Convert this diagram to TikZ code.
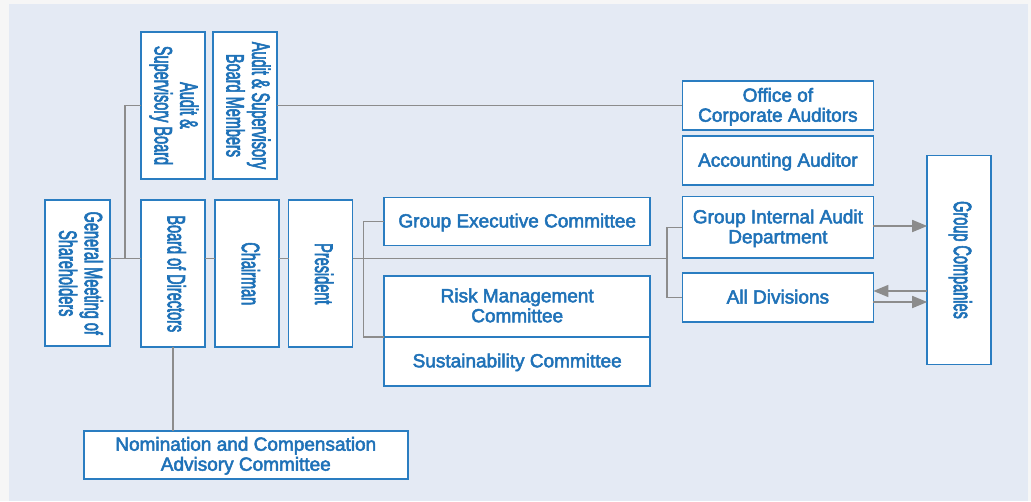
\documentclass[tikz,border=0pt]{standalone}
\usepackage{fontspec}
\usepackage{array}
\setmainfont{Liberation Sans}
\newfontfamily\hfont{Liberation Sans}
\newcommand{\embon}{\special{pdf:literal direct 2 Tr 0.5 w}}
\newcommand{\embonv}{\special{pdf:literal direct 2 Tr 0.9 w}}
\newcommand{\emboff}{\special{pdf:literal direct 0 Tr}}
\usetikzlibrary{arrows.meta}
\definecolor{outerbg}{HTML}{F6F6F6}
\definecolor{panelbg}{HTML}{E4EAF4}
\definecolor{boxblue}{HTML}{2A7DC1}
\definecolor{txtblue}{HTML}{1F72B8}
\definecolor{lingray}{HTML}{8C8C8C}
\newcommand{\vt}[1]{\rotatebox[origin=c]{-90}{\scalebox{0.58}[1]{\hfont\fontsize{25}{25}\selectfont\embonv\begin{tabular}{@{}>{\embonv}c@{}}#1\end{tabular}}}}
\newcommand{\htxt}[1]{\raisebox{-2pt}[\height][\depth]{\begin{tabular}{@{}c@{}}#1\end{tabular}}}
\tikzset{
  orgbox/.style={draw=boxblue, line width=1.8pt, fill=white, inner sep=0pt, outer sep=0pt,
    text=txtblue, align=center, font=\hfont\fontsize{19}{20}\selectfont,
    execute at begin node=\embon, execute at end node=\emboff},
  link/.style={draw=lingray, line width=1.6pt},
  arr/.style={link, -{Triangle[length=15pt,width=12pt,fill=lingray]}}
}
\begin{document}
\begin{tikzpicture}[x=1pt,y=-1pt]
\useasboundingbox (0,0) rectangle (1031,501);
\fill[outerbg] (0,0) rectangle (1031,501);
\fill[panelbg] (9,4) rectangle (1028,501);

% coordinates for connector junctions
\coordinate (m) at (0,258.3);
\coordinate (j1) at (125,258.3);
\coordinate (j2) at (363.3,258.3);
\coordinate (j3) at (667,258.3);

% boxes
\node[orgbox, minimum width=65, minimum height=146] (GM) at (77.3,273.3) {\vt{General Meeting of\\Shareholders}};
\node[orgbox, minimum width=64, minimum height=147] (ASB) at (172.8,105.5) {\vt{Audit \&\\Supervisory Board}};
\node[orgbox, minimum width=64, minimum height=147] (ASBM) at (244.7,105.5) {\vt{Audit \& Supervisory\\Board Members}};
\node[orgbox, minimum width=64, minimum height=147] (BoD) at (173,273.8) {\vt{Board of Directors}};
\node[orgbox, minimum width=64, minimum height=147] (Ch) at (247.2,273.8) {\vt{Chairman}};
\node[orgbox, minimum width=64, minimum height=147] (Pr) at (320.5,273.8) {\vt{President}};
\node[orgbox, minimum width=266, minimum height=48] (GEC) at (517.2,221.4) {\htxt{Group Executive Committee}};
\node[orgbox, minimum width=266, minimum height=60.9] (RMC) at (517.2,306.25) {\htxt{Risk Management\\Committee}};
\node[orgbox, minimum width=266, minimum height=49.2] (SC) at (517.2,361.3) {\htxt{Sustainability Committee}};
\node[orgbox, minimum width=191, minimum height=49] (OCA) at (777.9,105.7) {\htxt{Office of\\Corporate Auditors}};
\node[orgbox, minimum width=191, minimum height=49] (AA) at (777.9,160.7) {\htxt{Accounting Auditor}};
\node[orgbox, minimum width=191, minimum height=61.5] (GIAD) at (777.9,227.3) {\htxt{Group Internal Audit\\Department}};
\node[orgbox, minimum width=191, minimum height=48.5] (AD) at (777.9,297.5) {\htxt{All Divisions}};
\node[orgbox, minimum width=64, minimum height=209] (GC) at (959.2,260) {\vt{Group Companies}};
\node[orgbox, minimum width=324, minimum height=48] (NCAC) at (245.8,454.7) {\htxt{Nomination and Compensation\\Advisory Committee}};

% connectors
\draw[link] (GM.east |- m) -- (BoD.west |- m);
\draw[link] (j1) |- (ASB.west);
\draw[link] (ASBM.east) -- (ASBM.east -| OCA.west);
\draw[link] (BoD.east |- m) -- (Ch.west |- m);
\draw[link] (Ch.east |- m) -- (Pr.west |- m);
\draw[link] (Pr.east |- m) -- (j3);
\draw[link] (GEC.west) -| (j2) |- (RMC.south west);
\draw[link] (GIAD.west) -| (j3) |- (AD.west);
\draw[link] (BoD.south) -- (BoD.south |- NCAC.north);
\draw[arr] (GIAD.east |- 0,226) -- (GC.west |- 0,226);
\draw[arr] (GC.west |- 0,291) -- (AD.east |- 0,291);
\draw[arr] (AD.east |- 0,302) -- (GC.west |- 0,302);
\end{tikzpicture}
\end{document}
